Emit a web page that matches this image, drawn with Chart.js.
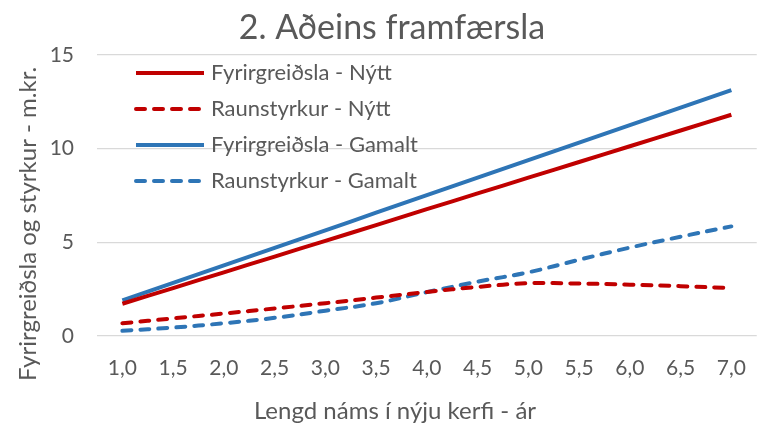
<!DOCTYPE html>
<html>
<head>
<meta charset="utf-8">
<script src="https://cdn.jsdelivr.net/npm/chart.js@4.4.1/dist/chart.umd.min.js"></script>
<style>
  html, body { margin: 0; padding: 0; background: #fff; overflow: hidden; }
  #wrap { width: 766px; height: 425px; }
</style>
</head>
<body>
<div id="wrap"><canvas id="myChart" width="766" height="425"></canvas></div>
<script>
// chart data
const years = ['1,0', '1,5', '2,0', '2,5', '3,0', '3,5', '4,0', '4,5', '5,0', '5,5', '6,0', '6,5', '7,0'];
const fyrirNytt = [1.72, 2.56, 3.40, 4.24, 5.08, 5.92, 6.77, 7.61, 8.45, 9.29, 10.13, 10.97, 11.81];
const raunNytt = [0.68, 0.94, 1.20, 1.47, 1.75, 2.05, 2.35, 2.62, 2.82, 2.80, 2.74, 2.66, 2.56];
const fyrirGamalt = [1.90, 2.84, 3.77, 4.71, 5.64, 6.58, 7.52, 8.45, 9.39, 10.32, 11.26, 12.19, 13.13];
const raunGamalt = [0.28, 0.45, 0.68, 0.97, 1.35, 1.75, 2.34, 2.90, 3.40, 4.07, 4.72, 5.30, 5.85];
const yTicks = [0, 5, 10, 15];

const chartTitle = '2. Aðeins framfærsla';
const xTitle = 'Lengd náms í nýju kerfi - ár';
const yTitle = 'Fyrirgreiðsla og styrkur - m.kr.';

const RED = '#C00000';
const BLUE = '#2E75B6';
const TXT = '#595959';
const FONT = 'Lato, "Noto Sans", sans-serif';

// legend drawn inside the plot area, top left
const insideLegend = {
    id: 'insideLegend',
    afterDraw(chart) {
        const ctx = chart.ctx;
        const area = chart.chartArea;
        const x0 = area.left + 37;
        ctx.save();
        chart.data.datasets.forEach((ds, i) => {
            const y = area.top + 18 + i * 36;
            ctx.strokeStyle = ds.borderColor;
            ctx.lineWidth = 4;
            ctx.lineCap = ds.borderDash.length ? 'round' : 'butt';
            ctx.setLineDash(ds.borderDash);
            ctx.beginPath();
            ctx.moveTo(x0 + 2, y);
            ctx.lineTo(x0 + 70, y);
            ctx.stroke();
            ctx.setLineDash([]);
            ctx.fillStyle = TXT;
            ctx.font = '22px ' + FONT;
            ctx.textBaseline = 'middle';
            ctx.fillText(ds.label, x0 + 77, y);
        });
        ctx.restore();
    }
};

// titles, placed like the original (centred on the whole figure, not the plot)
const figureTexts = {
    id: 'figureTexts',
    afterDraw(chart) {
        const ctx = chart.ctx;
        ctx.save();
        ctx.fillStyle = TXT;
        ctx.textAlign = 'center';
        ctx.textBaseline = 'middle';
        ctx.font = '34px ' + FONT;
        ctx.fillText(chartTitle, 392, 28);
        ctx.font = '24px ' + FONT;
        ctx.fillText(xTitle, 395, 411);
        ctx.translate(28, 224);
        ctx.rotate(-Math.PI / 2);
        ctx.fillText(yTitle, 0, 0);
        ctx.restore();
    }
};

function makeSet(label, data, color, dashed) {
    return {
        label: label,
        data: data,
        borderColor: color,
        backgroundColor: color,
        borderWidth: 4,
        borderDash: dashed ? [9, 9] : [],
        borderCapStyle: dashed ? 'round' : 'butt',
        pointRadius: 0,
        tension: 0.4,
        fill: false
    };
}

const ctx = document.getElementById('myChart').getContext('2d');
new Chart(ctx, {
    type: 'line',
    data: {
        labels: years,
        datasets: [
            makeSet('Fyrirgreiðsla - Nýtt', fyrirNytt, RED, false),
            makeSet('Raunstyrkur - Nýtt', raunNytt, RED, true),
            makeSet('Fyrirgreiðsla - Gamalt', fyrirGamalt, BLUE, false),
            makeSet('Raunstyrkur - Gamalt', raunGamalt, BLUE, true)
        ]
    },
    options: {
        responsive: false,
        animation: false,
        layout: { padding: { left: 0, right: 2, top: 55, bottom: 0 } },
        plugins: {
            legend: { display: false },
            tooltip: { enabled: false },
            title: { display: false }
        },
        scales: {
            x: {
                offset: true,
                grid: { display: false, drawTicks: false },
                border: { display: false },
                ticks: { color: TXT, font: { family: FONT, size: 21 }, padding: 20, maxRotation: 0 },
                afterFit: s => { s.height = 89; }
            },
            y: {
                min: 0,
                max: 15,
                afterBuildTicks: s => { s.ticks = yTicks.map(v => ({ value: v })); },
                grid: { color: '#d9d9d9', lineWidth: 1.3, drawTicks: false },
                border: { display: false },
                ticks: { color: TXT, font: { family: FONT, size: 21 }, padding: 23 },
                afterFit: s => { s.width = 97; }
            }
        }
    },
    plugins: [insideLegend, figureTexts]
});
</script>
</body>
</html>
